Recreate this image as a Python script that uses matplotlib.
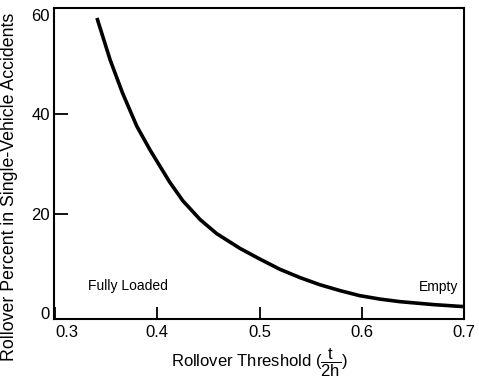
import matplotlib.pyplot as plt

plt.rcParams['font.family'] = ['Liberation Sans', 'DejaVu Sans']
plt.rcParams['mathtext.fontset'] = 'custom'
plt.rcParams['mathtext.rm'] = 'Liberation Sans'
plt.rcParams['mathtext.it'] = 'Liberation Sans'

# values
threshold = [0.341, 0.354, 0.366, 0.380, 0.393, 0.412, 0.425, 0.442, 0.458,
             0.481, 0.500, 0.520, 0.540, 0.559, 0.579, 0.598, 0.618, 0.637,
             0.670, 0.699]
rollover_pct = [59.4, 50.9, 44.3, 37.6, 32.8, 26.4, 22.6, 18.8, 16.0,
                13.0, 10.9, 8.8, 7.1, 5.7, 4.5, 3.5, 2.8, 2.3,
                1.7, 1.3]

x_ticks = [0.3, 0.4, 0.5, 0.6, 0.7]
x_tick_labels = ['0.3', '0.4', '0.5', '0.6', '0.7']
y_ticks = [0, 20, 40, 60]
y_tick_labels = ['0', '20', '40', '60']

fig = plt.figure(figsize=(4.79, 3.79), dpi=100)
ax = fig.add_axes([54 / 479, 1 - 319 / 379, 410 / 479, 311 / 379])

ax.plot(threshold, rollover_pct, color='black', linewidth=2.6,
        solid_capstyle='butt', solid_joinstyle='round')

ax.set_xlim(0.299, 0.7)
ax.set_ylim(-1.2, 61.4)

ax.set_xticks(x_ticks)
ax.set_xticklabels(x_tick_labels, fontsize=12)
ax.set_yticks(y_ticks)
ax.set_yticklabels(y_tick_labels, fontsize=12)
ax.tick_params(axis='x', direction='in', length=9, width=1.3, pad=4)
ax.tick_params(axis='y', direction='in', length=10, width=1.3, pad=3)
ax.get_xticklabels()[0].set_ha('left')
for i in (0, 3):
    ax.yaxis.get_major_ticks()[i].tick1line.set_visible(False)

for spine in ax.spines.values():
    spine.set_linewidth(1.5)

ax.text(0.332, 5.4, 'Fully Loaded', fontsize=10, ha='left', va='center')
ax.text(0.694, 5.3, 'Empty', fontsize=10, ha='right', va='center')

fig.text(259 / 479, 1 - 367 / 379, r'Rollover Threshold ($\dfrac{t}{2h}$)',
         fontsize=12, ha='center', va='baseline')
ax.set_ylabel('Rollover Percent in Single-Vehicle Accidents', fontsize=12.8)
ax.yaxis.set_label_coords(-0.088, 0.424)

fig.savefig('out.png', dpi=100)
